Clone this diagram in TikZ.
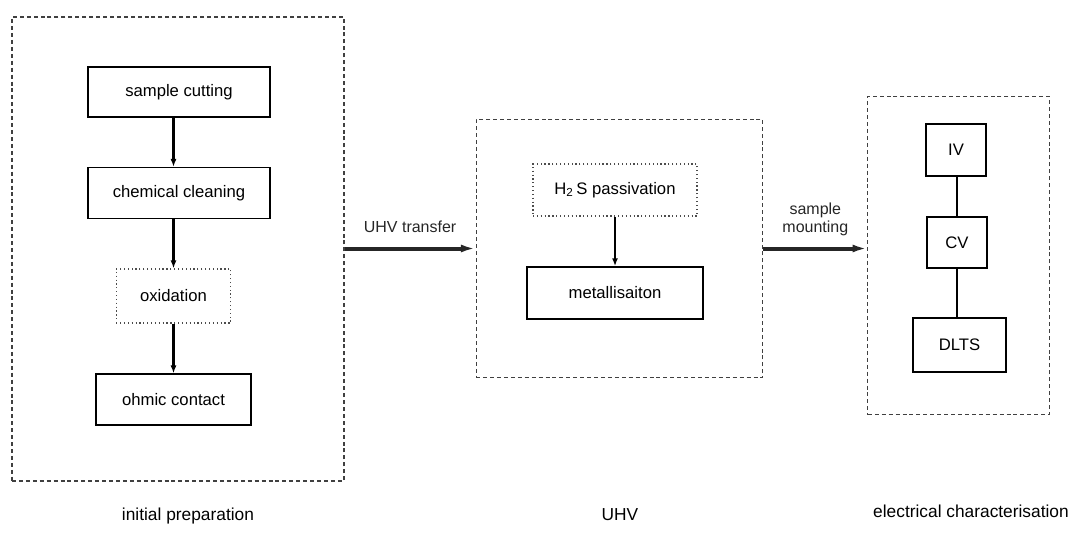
\documentclass[tikz,border=0pt]{standalone}
\usepackage{fontspec}
\setmainfont{Liberation Sans}
\usepackage{tikz}
\usetikzlibrary{calc, positioning, arrows.meta}

\begin{document}
\begin{tikzpicture}[
    x=0.75pt, y=-0.75pt,
    frame/.style={rectangle, draw=black!75, line width=0.9pt, dash pattern=on 3pt off 2.2pt, inner sep=0pt},
    stepbox/.style={rectangle, draw, line width=1.1pt, inner sep=0pt, font=\fontsize{12.5}{15}\selectfont},
    dotbox/.style={rectangle, draw=black!70, line width=0.9pt, dotted, inner sep=0pt, font=\fontsize{12.5}{15}\selectfont},
    arrow_down/.style={-{Latex[length=6pt, width=4.5pt]}, line width=1.7pt},
    link/.style={line width=1.8pt},
    arrow_move/.style={-{Latex[length=11pt, width=6pt]}, line width=3pt, color=black!85},
    label_style/.style={font=\fontsize{12}{13.5}\selectfont, align=center},
    title_style/.style={font=\fontsize{13}{15}\selectfont}
]
\useasboundingbox (0,0) rectangle (1068,547);

% dashed frames
\node[frame, minimum width=249pt, minimum height=348pt] (prep) at (178,249) {};
\node[frame, minimum width=215pt, minimum height=194pt] (uhv) at (619.5,248.5) {};
\node[frame, minimum width=136pt, minimum height=239pt] (elec) at (958.5,255.5) {};

% initial preparation
\node[stepbox, minimum width=136.5pt, minimum height=37.5pt] (cut) at (179,92) {sample cutting};
\node[stepbox, minimum width=136.5pt, minimum height=38pt] (clean) at (179,193) {chemical cleaning};
\node[dotbox, minimum width=86pt, minimum height=40.5pt] (oxid) at (173.5,296) {oxidation};
\node[stepbox, minimum width=116pt, minimum height=38pt] (ohmic) at (173.5,399.5) {ohmic contact};

\draw[arrow_down] (cut.south -| oxid.north) -- (clean.north -| oxid.north);
\draw[arrow_down] (clean.south -| oxid.north) -- (oxid.north);
\draw[arrow_down] (oxid) -- (ohmic);

% UHV
\node[dotbox, minimum width=123pt, minimum height=39pt] (pass) at (615,190) {H\textsubscript{2}\,S passivation};
\node[stepbox, minimum width=132pt, minimum height=39pt] (metal) at (615,293) {metallisaiton};

\draw[arrow_down] (pass) -- (metal);

% electrical characterisation
\node[stepbox, minimum width=45pt, minimum height=39pt] (iv) at (956,150) {IV};
\node[stepbox, minimum width=45pt, minimum height=38pt] (cv) at (957,242.5) {CV};
\node[stepbox, minimum width=70pt, minimum height=40.5pt] (dlts) at (959.5,345) {DLTS};

\draw[link] (iv.south -| cv.north) -- (cv.north);
\draw[link] (cv) -- (cv |- dlts.north);

% transfers between stages
\draw[arrow_move] (prep.east |- uhv.west) -- (uhv.west)
    node[midway, above=7pt, label_style] {UHV transfer};
\draw[arrow_move] (uhv.east) -- (uhv.east -| elec.west)
    node[midway, above=5pt, label_style] {sample\\mounting};

\node[title_style] (t_prep) at (188,516) {initial preparation};
\node[title_style] (t_uhv) at (620,515) {UHV};
\node[title_style] (t_elec) at (971,511) {electrical characterisation};

\end{tikzpicture}
\end{document}
